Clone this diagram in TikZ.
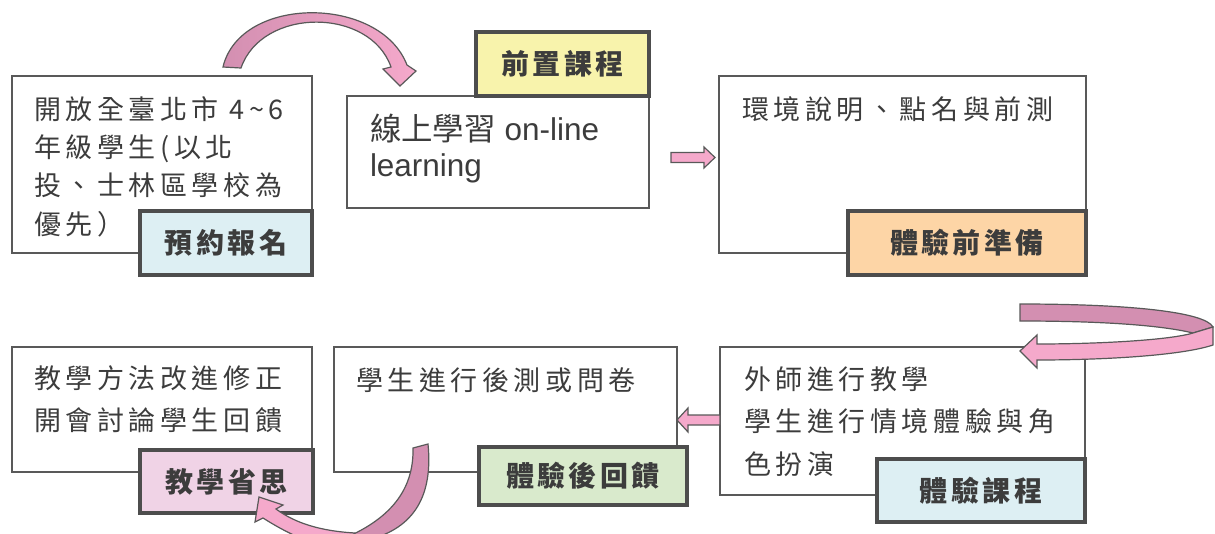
\documentclass[tikz,border=0pt]{standalone}
\usepackage{fontspec}
\setmainfont{Liberation Sans}
\newfontfamily\cjk{Noto Sans CJK TC}[LetterSpace=17]
\newfontfamily\cjkb{Noto Sans CJK TC}[LetterSpace=12]
\newfontfamily\cjkplain{Noto Sans CJK TC}
\usetikzlibrary{calc}
\definecolor{txtgray}{HTML}{3C3C3C}
\definecolor{bordergray}{HTML}{595959}
\definecolor{labborder}{HTML}{4D4D4D}
\definecolor{lblue}{HTML}{DDEFF3}
\definecolor{lyellow}{HTML}{F8F3AC}
\definecolor{lpeach}{HTML}{FDD5A6}
\definecolor{lpink}{HTML}{F0D3E6}
\definecolor{lgreen}{HTML}{D9EACC}
\definecolor{pinklight}{HTML}{F5A9CB}
\definecolor{pinkdark}{HTML}{D38FB1}
\definecolor{arrowline}{HTML}{595959}
\tikzset{
  mainbox/.style={draw=bordergray, line width=1.5pt, fill=white, inner sep=0pt, outer sep=0pt, anchor=north west},
  lab/.style={draw=labborder, line width=2.6pt, inner sep=0pt, outer sep=0pt, anchor=north west, text=txtgray,
    font=\cjkb\bfseries\fontsize{21pt}{24pt}\selectfont},
  txt/.style={anchor=base west, inner sep=0pt, outer sep=0pt, text=txtgray, font=\cjk\fontsize{20.25pt}{24pt}\selectfont},
  etxt/.style={anchor=base west, inner sep=0pt, outer sep=0pt, text=txtgray, font=\fontsize{23.6pt}{28pt}\selectfont},
  parrow/.style={draw=arrowline, line width=0.9pt, fill=pinklight, line join=miter},
}
\begin{document}
\begin{tikzpicture}[x=0.75pt,y=-0.75pt]
\useasboundingbox (0,0) rectangle (1215,533);
% ---- main boxes
\node[mainbox, minimum width=300*0.75pt, minimum height=177*0.75pt] (b1) at (12,76) {};
\node[mainbox, minimum width=302*0.75pt, minimum height=112*0.75pt] (b2) at (347,96) {};
\node[mainbox, minimum width=367*0.75pt, minimum height=177*0.75pt] (b3) at (719,76) {};
\node[mainbox, minimum width=300*0.75pt, minimum height=125*0.75pt] (b4) at (12,347) {};
\node[mainbox, minimum width=343*0.75pt, minimum height=125*0.75pt] (b5) at (334,347) {};
\node[mainbox, minimum width=365*0.75pt, minimum height=148*0.75pt] (b6) at (720,347) {};
% ---- texts
\node[txt] (t1a) at (34,119) {開放全臺北市 4\textasciitilde 6};
\node[txt] (t1b) at (34,157) {年級學生(以北};
\node[txt] (t1c) at (34,195) {投、士林區學校為};
\node[txt] (t1d) at (34,234) {優先）};
\node[etxt] (t2a) at (370,140) {{\cjkplain 線上學習} on-line};
\node[etxt] (t2b) at (370,176) {learning};
\node[txt] (t3a) at (742,119) {環境說明、點名與前測};
\node[txt] (t4a) at (34,388) {教學方法改進修正};
\node[txt] (t4b) at (34,430) {開會討論學生回饋};
\node[txt] (t5a) at (356,390) {學生進行後測或問卷};
\node[txt] (t6a) at (744,389) {外師進行教學};
\node[txt] (t6b) at (744,431) {學生進行情境體驗與角};
\node[txt] (t6c) at (744,474) {色扮演};
% ---- labels
\node[lab, fill=lblue, minimum width=172*0.75pt, minimum height=64*0.75pt] (l1) at (140,211) {預約報名};
\node[lab, fill=lyellow, minimum width=173*0.75pt, minimum height=64*0.75pt] (l2) at (476,32) {前置課程};
\node[lab, fill=lpeach, minimum width=238*0.75pt, minimum height=64*0.75pt] (l3) at (848,211) {體驗前準備};
\node[lab, fill=lpink, minimum width=173*0.75pt, minimum height=63*0.75pt] (l4) at (140,450) {教學省思};
\node[lab, fill=lgreen, minimum width=208*0.75pt, minimum height=58*0.75pt] (l5) at (479,447) {體驗後回饋};
\node[lab, fill=lblue, minimum width=208*0.75pt, minimum height=63*0.75pt] (l6) at (877,459) {體驗課程};
% ---- straight block arrows
\draw[parrow, shift={(b2.east)}] (22,0.5) -- (55,0.5) -- (55,-5) -- (66,5.5) -- (55,16) -- (55,10.5) -- (22,10.5) -- cycle;
\draw[parrow, shift={(b6.west)}] (0,-6) -- (-32,-6) -- (-32,-13) -- (-43,-1) -- (-32,11) -- (-32,4) -- (0,4) -- cycle;
% ---- curved arrows
\begin{scope}
\clip (0,0) rectangle (1215,533);
% top: b1 -> b2
\draw[draw=arrowline, line width=0.9pt, left color=pinkdark, right color=pinklight, line join=miter]
  (223,67) .. controls (240,-5) and (380,-5) .. (407,65) -- (416,71) -- (400,86) -- (383,69) -- (391,67)
  .. controls (370,7) and (262,7) .. (241,68) -- cycle;
% right loop: b3 -> b6
\draw[draw=arrowline, line width=0.9pt, fill=pinkdark]
  (1020,304) .. controls (1130,304) and (1205,312) .. (1213,327) -- (1193,333)
  .. controls (1160,325) and (1100,321) .. (1020,321) -- cycle;
\draw[parrow]
  (1213,327) -- (1213,345) .. controls (1180,356) and (1100,360) .. (1037,360) -- (1037,368) -- (1020,351)
  -- (1037,335) -- (1037,344) .. controls (1100,344) and (1170,340) .. (1193,333) -- cycle;
% bottom: b5 -> b4
\draw[parrow]
  (276,509) .. controls (295,523) and (320,531) .. (355,533) -- (360,550)
  .. controls (320,550) and (290,535) .. (263,518) -- (255,522) -- (259,497) -- (283,505) -- cycle;
\draw[draw=arrowline, line width=0.9pt, fill=pinkdark]
  (413,448) -- (428,444) .. controls (433,495) and (415,528) .. (368,540) -- (340,540)
  .. controls (390,520) and (414,490) .. (413,448) -- cycle;
\end{scope}
\end{tikzpicture}
\end{document}
